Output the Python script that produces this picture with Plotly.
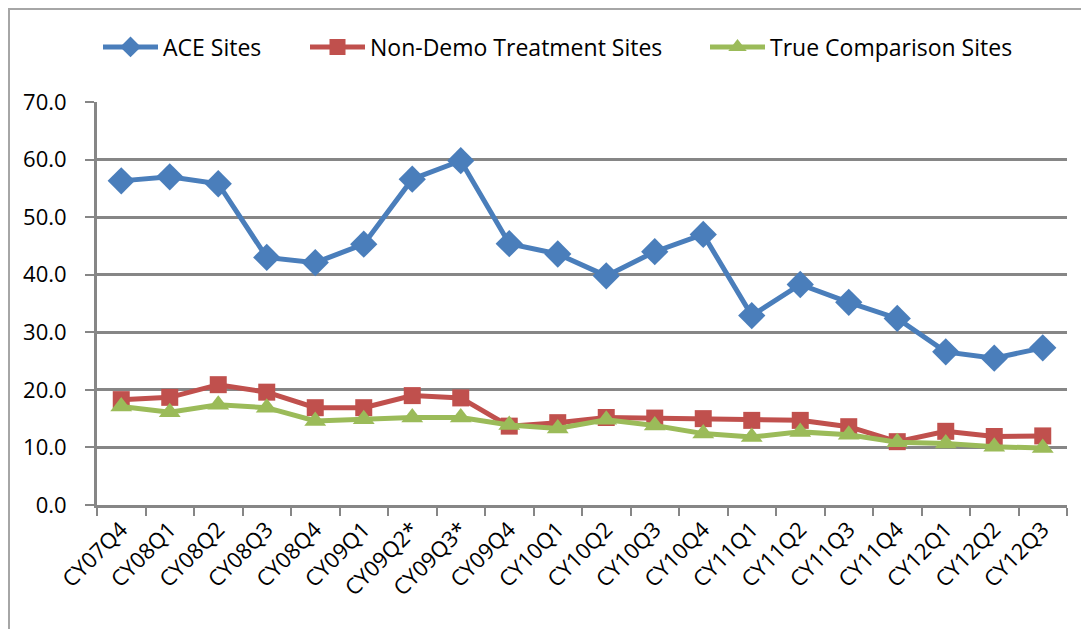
import plotly.graph_objects as go

quarters = ["CY07Q4", "CY08Q1", "CY08Q2", "CY08Q3", "CY08Q4", "CY09Q1", "CY09Q2*",
            "CY09Q3*", "CY09Q4", "CY10Q1", "CY10Q2", "CY10Q3", "CY10Q4", "CY11Q1",
            "CY11Q2", "CY11Q3", "CY11Q4", "CY12Q1", "CY12Q2", "CY12Q3"]
ace_sites = [56.3, 57.0, 55.8, 43.0, 42.1, 45.3, 56.6, 59.8, 45.4, 43.6,
             39.8, 44.0, 47.0, 32.9, 38.3, 35.2, 32.4, 26.6, 25.5, 27.3]
non_demo = [18.3, 18.7, 20.9, 19.6, 16.9, 16.9, 19.0, 18.6, 13.7, 14.3,
            15.2, 15.1, 15.0, 14.7, 14.7, 13.6, 11.0, 12.8, 11.9, 12.0]
true_comp = [17.1, 16.1, 17.4, 16.9, 14.6, 14.9, 15.2, 15.2, 13.9, 13.3,
             14.8, 13.8, 12.4, 11.8, 12.7, 12.2, 10.9, 10.7, 10.1, 9.9]
y_ticks = [0, 10, 20, 30, 40, 50, 60, 70]

FONT = "Open Sans"
W, H = 1081, 621  # page body adds an 8px margin

fig = go.Figure()
fig.add_trace(go.Scatter(x=quarters, y=ace_sites, name="ACE Sites", mode="lines+markers",
                         line=dict(color="#4A7EBB", width=5), legend="legend",
                         marker=dict(symbol="diamond", size=21, color="#4A7EBB")))
fig.add_trace(go.Scatter(x=quarters, y=non_demo, name="Non-Demo Treatment Sites", mode="lines+markers",
                         line=dict(color="#C0504D", width=5), legend="legend2",
                         marker=dict(symbol="square", size=17, color="#C0504D")))
fig.add_trace(go.Scatter(x=quarters, y=true_comp, name="True Comparison Sites", mode="lines+markers",
                         line=dict(color="#9BBB59", width=5), legend="legend3",
                         marker=dict(symbol="triangle-up", size=19, color="#9BBB59")))

def leg(xpix):
    return dict(orientation="h", xref="container", yref="container",
                x=xpix / W, xanchor="left", y=1 - 39 / H, yanchor="middle",
                font=dict(family=FONT, size=23), itemwidth=55, itemsizing="trace",
                bgcolor="rgba(0,0,0,0)")

fig.update_layout(
    width=W, height=H,
    margin=dict(l=89, r=22, t=94, b=124),
    paper_bgcolor="white", plot_bgcolor="white",
    font=dict(family=FONT, size=20, color="#000000"),
    showlegend=True,
    legend=leg(90), legend2=leg(297), legend3=leg(697),
    xaxis=dict(type="category", tickangle=-45, ticks="outside", tickson="boundaries",
               ticklen=8, tickwidth=2, tickcolor="#868686",
               showline=True, linecolor="#868686", linewidth=3,
               showgrid=False, tickfont=dict(family=FONT, size=22),
               automargin=False,
               range=[-0.5, len(quarters) - 0.5]),
    yaxis=dict(range=[0, 70], tickvals=y_ticks, tickformat=".1f",
               ticks="outside", ticklen=9, tickwidth=2, tickcolor="#868686",
               showline=True, linecolor="#868686", linewidth=3,
               showgrid=True, gridcolor="#868686", gridwidth=2.5,
               zeroline=False, tickfont=dict(family=FONT, size=22),
               ticklabelstandoff=14, automargin=False),
    shapes=[dict(type="rect", xref="paper", yref="paper",
                 x0=-88 / 970, x1=1.2, y0=-0.6, y1=1 + 93 / 403,
                 line=dict(color="#A6A6A6", width=2), layer="below")],
)

fig.write_html("out.html")
